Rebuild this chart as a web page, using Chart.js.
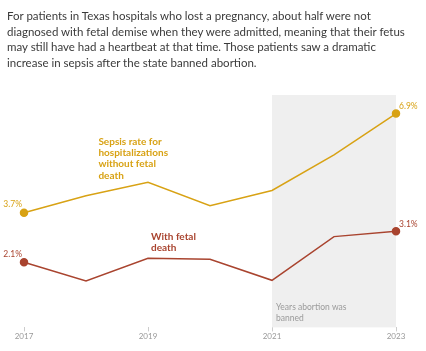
<!DOCTYPE html>
<html>
<head>
<meta charset="utf-8">
<script src="https://cdn.jsdelivr.net/npm/chart.js@4"></script>
<style>
  html, body { margin: 0; padding: 0; background: #fff; }
  #wrap { position: relative; width: 426px; height: 351px; }
  #intro {
    position: absolute; left: 7px; top: 8px; white-space: nowrap;
    font-family: "Lato", "Noto Sans", sans-serif; font-size: 11.5px; line-height: 15.5px;
    color: #3a3a3a;
  }
  canvas { position: absolute; left: 0; top: 0; }
</style>
</head>
<body>
<div id="wrap">
  <canvas id="chart" width="426" height="351"></canvas>
  <div id="intro">For patients in Texas hospitals who lost a pregnancy, about half were not<br>diagnosed with fetal demise when they were admitted, meaning that their fetus<br>may still have had a heartbeat at that time. Those patients saw a dramatic<br>increase in sepsis after the state banned abortion.</div>
</div>
<script>
const years = ['2017', '2018', '2019', '2020', '2021', '2022', '2023'];
const shownYears = ['2017', '2019', '2021', '2023'];
const withoutFetalDeath = [3.7, 4.25, 4.68, 3.93, 4.42, 5.57, 6.9];
const withFetalDeath = [2.1, 1.5, 2.23, 2.2, 1.52, 2.93, 3.1];
const banStart = '2021';
const banEnd = '2023';

const gold = '#d8a214';
const rust = '#a9442f';
const font = '"Lato", "Noto Sans", sans-serif';

// grey band for the years abortion was banned
const banBand = {
  id: 'banBand',
  beforeDatasetsDraw(chart) {
    const { ctx, chartArea, scales } = chart;
    const x0 = scales.x.getPixelForValue(years.indexOf(banStart));
    const x1 = scales.x.getPixelForValue(years.indexOf(banEnd));
    ctx.save();
    ctx.fillStyle = '#efefef';
    ctx.fillRect(x0, chartArea.top, x1 - x0, chartArea.bottom - chartArea.top);
    ctx.fillStyle = '#9a9a9a';
    ctx.font = '8.5px ' + font;
    ctx.textBaseline = 'middle';
    ctx.fillText('Years abortion was', x0 + 4, chartArea.bottom - 20);
    ctx.fillText('banned', x0 + 4, chartArea.bottom - 9);
    ctx.restore();
  }
};

// series labels and end values
const labelsPlugin = {
  id: 'labelsPlugin',
  afterDatasetsDraw(chart) {
    const { ctx, scales } = chart;
    const x = scales.x, y = scales.y;
    ctx.save();
    ctx.textBaseline = 'middle';

    ctx.font = 'bold 10px ' + font;
    ctx.fillStyle = gold;
    const gx = x.getPixelForValue(1.2), gy = y.getPixelForValue(6.0);
    ['Sepsis rate for', 'hospitalizations', 'without fetal', 'death'].forEach((t, i) => {
      ctx.fillText(t, gx, gy + i * 11.4);
    });
    ctx.fillStyle = rust;
    const rx = x.getPixelForValue(2.05), ry = y.getPixelForValue(2.92);
    ['With fetal', 'death'].forEach((t, i) => {
      ctx.fillText(t, rx, ry + i * 11);
    });

    ctx.font = '8.5px ' + font;
    const last = years.length - 1;
    [[withoutFetalDeath, gold], [withFetalDeath, rust]].forEach(([d, c]) => {
      ctx.fillStyle = c;
      ctx.textAlign = 'right';
      ctx.fillText(d[0].toFixed(1) + '%', x.getPixelForValue(0) - 2, y.getPixelForValue(d[0]) - 8);
      ctx.textAlign = 'left';
      ctx.fillText(d[last].toFixed(1) + '%', x.getPixelForValue(last) + 3, y.getPixelForValue(d[last]) - 7);
    });
    ctx.restore();
  }
};

const endPoints = (n) => (ctx) => (ctx.dataIndex === 0 || ctx.dataIndex === years.length - 1) ? n : 0;

new Chart(document.getElementById('chart'), {
  type: 'line',
  data: {
    labels: years,
    datasets: [
      {
        label: 'Without fetal death',
        data: withoutFetalDeath,
        borderColor: gold,
        backgroundColor: gold,
        borderWidth: 1.5,
        pointRadius: endPoints(3.5),
        tension: 0
      },
      {
        label: 'With fetal death',
        data: withFetalDeath,
        borderColor: rust,
        backgroundColor: rust,
        borderWidth: 1.5,
        pointRadius: endPoints(3.5),
        tension: 0
      }
    ]
  },
  options: {
    responsive: false,
    animation: false,
    layout: { padding: { top: 95, left: 24, right: 30, bottom: 10 } },
    plugins: {
      legend: { display: false },
      tooltip: { enabled: false }
    },
    scales: {
      x: {
        offset: false,
        border: { display: false },
        grid: {
          drawOnChartArea: false,
          tickLength: 4,
          color: (c) => shownYears.includes(years[c.index]) ? '#cccccc' : 'rgba(0,0,0,0)'
        },
        ticks: {
          autoSkip: false,
          maxRotation: 0,
          padding: 0,
          color: '#999999',
          font: { family: font, size: 8 },
          callback: (v, i) => shownYears.includes(years[i]) ? years[i] : ''
        }
      },
      y: {
        display: false,
        min: 0,
        max: 7.5
      }
    }
  },
  plugins: [banBand, labelsPlugin]
});
</script>
</body>
</html>
